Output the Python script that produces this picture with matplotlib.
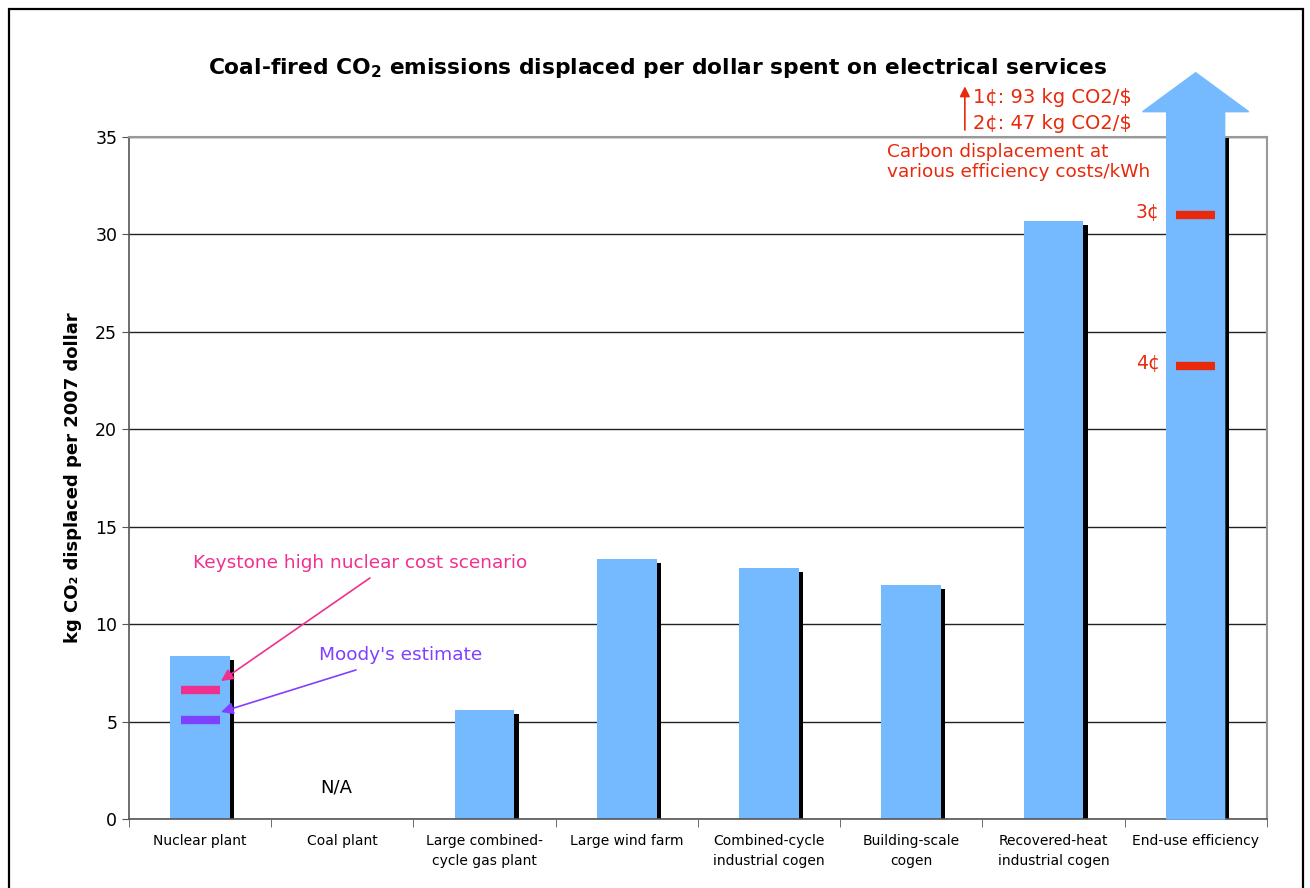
import matplotlib.pyplot as plt
from matplotlib.patches import Polygon, Rectangle

# kg CO2 displaced per 2007 dollar, by option
categories = ["Nuclear plant", "Coal plant", "Large combined-\ncycle gas plant",
              "Large wind farm", "Combined-cycle\nindustrial cogen",
              "Building-scale\ncogen", "Recovered-heat\nindustrial cogen",
              "End-use efficiency"]
values = [8.36, None, 5.59, 13.34, 12.88, 12.0, 30.68, None]

# end-use efficiency shown as an arrow running off the top
arrow_top = 38.3
arrow_head_base = 36.3

# efficiency cost markers (cents/kWh -> kg CO2/$)
eff_cents = ["3¢", "4¢"]
eff_values = [31.0, 23.25]

# nuclear cost scenarios
keystone_value = 6.6
moodys_value = 5.08

BLUE = "#75B9FF"
RED = "#E8290B"
PINK = "#F0308F"
PURPLE = "#8040FF"

plt.rcParams['font.family'] = ['DejaVu Sans']

fig = plt.figure(figsize=(13.1, 8.88), dpi=100)
ax = fig.add_axes([0.0985, 0.0777, 0.8685, 0.768])

bar_w = 0.42
edge_w = 0.03
edge_drop = 0.22
x = list(range(len(categories)))

for i, v in enumerate(values):
    if v is None:
        continue
    ax.bar(i, v, width=bar_w, color=BLUE, zorder=2)
    ax.bar(i + bar_w / 2 + edge_w / 2, v - edge_drop, width=edge_w,
           color="black", zorder=2)

# arrow for end-use efficiency
i = 7
shaft = bar_w / 2 * 0.97
head = 0.373
arrow = Polygon([(i - shaft, 0), (i - shaft, arrow_head_base),
                 (i - head, arrow_head_base), (i, arrow_top),
                 (i + head, arrow_head_base), (i + shaft, arrow_head_base),
                 (i + shaft, 0)],
                closed=True, color=BLUE, clip_on=False, zorder=3)
ax.add_patch(arrow)
ax.bar(i + shaft + edge_w / 2, 35, width=edge_w, color="black", zorder=2)

# markers
mark_w = 0.275
for v in eff_values:
    ax.plot([i - mark_w / 2, i + mark_w / 2], [v, v], color=RED, lw=6,
            solid_capstyle="butt", zorder=4)
for lab, v in zip(eff_cents, eff_values):
    ax.text(6.748, v + 0.15, lab, color=RED, fontsize=13.5,
            ha="right", va="center")

ax.plot([-mark_w / 2, mark_w / 2], [keystone_value] * 2, color=PINK, lw=6,
        solid_capstyle="butt", zorder=4)
ax.plot([-mark_w / 2, mark_w / 2], [moodys_value] * 2, color=PURPLE, lw=6,
        solid_capstyle="butt", zorder=4)

ax.annotate("", xy=(0.147, 7.08), xytext=(1.194, 12.37),
            arrowprops=dict(arrowstyle="-|>", color=PINK, lw=1.2,
                            mutation_scale=18, shrinkA=0, shrinkB=0))
ax.text(-0.05, 13.14, "Keystone high nuclear cost scenario", color=PINK,
        fontsize=13.3, va="center")
ax.annotate("", xy=(0.147, 5.49), xytext=(1.096, 7.65),
            arrowprops=dict(arrowstyle="-|>", color=PURPLE, lw=1.2,
                            mutation_scale=18, shrinkA=0, shrinkB=0))
ax.text(0.836, 8.42, "Moody's estimate", color=PURPLE, fontsize=13.3,
        va="center")

ax.text(0.955, 1.64, "N/A", fontsize=13, ha="center", va="center")

# notes on the efficiency arrow
ax.annotate("", xy=(5.377, 37.6), xytext=(5.377, 35.36),
            arrowprops=dict(arrowstyle="-|>", color=RED, lw=1.2,
                            mutation_scale=15, shrinkA=0, shrinkB=0),
            annotation_clip=False)
ax.text(5.433, 37.05, "1¢: 93 kg CO2/$", color=RED, fontsize=14,
        va="center", clip_on=False)
ax.text(5.433, 35.67, "2¢: 47 kg CO2/$", color=RED, fontsize=14,
        va="center", clip_on=False)
ax.text(4.829, 33.7, "Carbon displacement at\nvarious efficiency costs/kWh",
        color=RED, fontsize=13.3, va="center", linespacing=1.15)

ax.set_xlim(-0.5, 7.5)
ax.set_ylim(0, 35)
ax.set_yticks(range(0, 36, 5))
ax.yaxis.grid(True, color="#222222", lw=1)
ax.set_axisbelow(True)
ax.tick_params(axis="y", labelsize=12.5, length=5, color="#555555")

ax.set_xticks(x)
ax.set_xticklabels(categories, fontsize=10, linespacing=1.5)
ax.tick_params(axis="x", length=0, pad=11)
ax.set_xticks([k - 0.5 for k in range(9)], minor=True)
ax.tick_params(axis="x", which="minor", length=6, color="#555555")

for side in ["left", "bottom"]:
    ax.spines[side].set_color("#555555")
    ax.spines[side].set_linewidth(1.2)
for side in ["top", "right"]:
    ax.spines[side].set_color("#999999")
    ax.spines[side].set_linewidth(1.5)

fig.text(0.502, 0.923,
         "Coal-fired CO$_\\mathbf{2}$ emissions displaced per dollar spent on electrical services",
         fontsize=15.7, fontweight="bold", ha="center", va="center")
fig.text(0.0557, 0.462, "kg CO₂ displaced per 2007 dollar", fontsize=13,
         fontweight="bold", rotation=90, ha="center", va="center")

fig.add_artist(Rectangle((9 / 1310, -0.05), 1294 / 1310, 1.05 - 9 / 888,
                         transform=fig.transFigure, fill=False,
                         edgecolor="black", lw=1.6))

fig.savefig("out.png", dpi=100)
